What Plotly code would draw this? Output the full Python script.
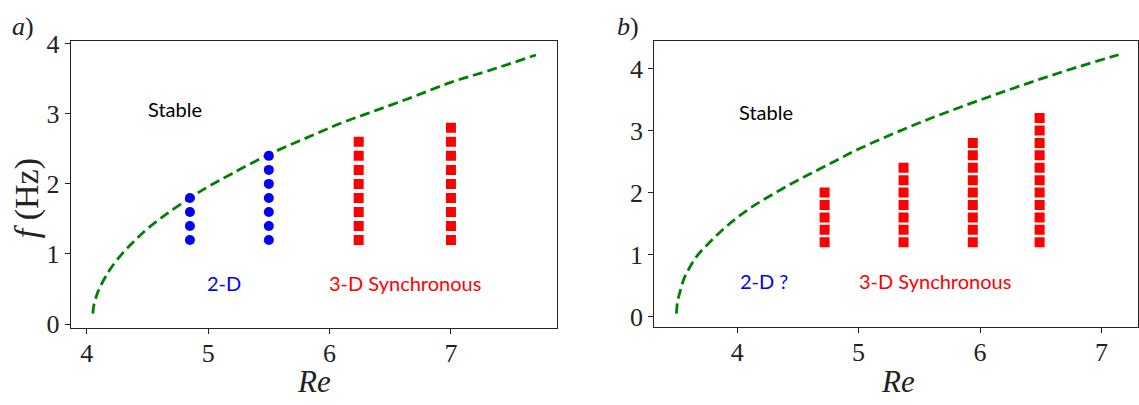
import plotly.graph_objects as go

# ---------------- data ----------------
# Panel a
a_curve_re = [4.05, 4.06, 4.08, 4.10, 4.15, 4.20, 4.30, 4.40, 4.50, 4.65, 4.85, 5.00,
              5.20, 5.50, 5.80, 6.10, 6.40, 6.70, 7.00, 7.30, 7.70]
a_curve_f = [0.15, 0.28, 0.40, 0.49, 0.66, 0.80, 1.02, 1.20, 1.36, 1.56, 1.80, 1.96,
             2.15, 2.42, 2.65, 2.87, 3.06, 3.25, 3.45, 3.61, 3.84]
a_2d_re = [4.85] * 4 + [5.5] * 7
a_2d_f = [1.2, 1.4, 1.6, 1.8] + [1.2, 1.4, 1.6, 1.8, 2.0, 2.2, 2.4]
a_3d_re = [6.24] * 8 + [7.0] * 9
a_3d_f = [1.2, 1.4, 1.6, 1.8, 2.0, 2.2, 2.4, 2.6] + [1.2, 1.4, 1.6, 1.8, 2.0, 2.2, 2.4, 2.6, 2.8]

# Panel b
b_curve_re = [3.50, 3.51, 3.53, 3.56, 3.60, 3.67, 3.78, 3.92, 4.10, 4.30, 4.52, 4.75,
              5.00, 5.30, 5.60, 5.90, 6.20, 6.50, 6.80, 7.14]
b_curve_f = [0.05, 0.25, 0.40, 0.60, 0.76, 0.98, 1.21, 1.47, 1.74, 1.98, 2.22, 2.45,
             2.70, 2.96, 3.20, 3.42, 3.63, 3.83, 4.02, 4.22]
b_3d_re = [4.72] * 5 + [5.37] * 7 + [5.94] * 9 + [6.49] * 11
b_3d_f = ([1.2, 1.4, 1.6, 1.8, 2.0] +
          [1.2, 1.4, 1.6, 1.8, 2.0, 2.2, 2.4] +
          [1.2, 1.4, 1.6, 1.8, 2.0, 2.2, 2.4, 2.6, 2.8] +
          [1.2, 1.4, 1.6, 1.8, 2.0, 2.2, 2.4, 2.6, 2.8, 3.0, 3.2])

x_ticks = [4, 5, 6, 7]
y_ticks = [0, 1, 2, 3, 4]

# ---------------- figure ----------------
W, H = 1139, 405
SERIF = "Liberation Serif"
SANS = "Lato"
GREEN = "#008000"

fig = go.Figure()

def curve(x, y, xa, ya):
    return go.Scatter(x=x, y=y, mode="lines", xaxis=xa, yaxis=ya,
                      line=dict(color=GREEN, width=2.8, dash="10px,5px", shape="spline"),
                      hoverinfo="skip", showlegend=False)

def pts(x, y, xa, ya, color, symbol):
    return go.Scatter(x=x, y=y, mode="markers", xaxis=xa, yaxis=ya,
                      marker=dict(color=color, size=10, symbol=symbol, line=dict(width=0)),
                      showlegend=False)

fig.add_trace(curve(a_curve_re, a_curve_f, "x", "y"))
fig.add_trace(pts(a_2d_re, a_2d_f, "x", "y", "#0000ff", "circle"))
fig.add_trace(pts(a_3d_re, a_3d_f, "x", "y", "#ff0000", "square"))
fig.add_trace(curve(b_curve_re, b_curve_f, "x2", "y2"))
fig.add_trace(pts(b_3d_re, b_3d_f, "x2", "y2", "#ff0000", "square"))

def px2dom(x0, x1, total):
    return [x0 / total, x1 / total]

ax_common = dict(showline=True, linecolor="#222", linewidth=1.2, mirror=True,
                 ticks="outside", ticklen=5, tickwidth=1, tickcolor="#222",
                 showgrid=False, zeroline=False,
                 tickfont=dict(family=SERIF, size=26, color="#222"))
x_extra = dict(ticklabelstandoff=-3)

fig.update_layout(
    width=W, height=H,
    margin=dict(l=0, r=0, t=0, b=0),
    paper_bgcolor="white", plot_bgcolor="white",
    xaxis=dict(domain=px2dom(70.7, 557.3, W), range=[3.868, 7.876], anchor="y",
               tickvals=x_ticks, **ax_common, **x_extra),
    yaxis=dict(domain=[1 - 334.7 / H, 1 - 32 / H], range=[-0.05, 4.036], anchor="x",
               tickvals=y_ticks, **ax_common),
    xaxis2=dict(domain=px2dom(654.3, 1138.0, W), range=[3.318, 7.30], anchor="y2",
                tickvals=x_ticks, **ax_common, **x_extra),
    yaxis2=dict(domain=[1 - 334.3 / H, 1 - 32 / H], range=[-0.168, 4.437], anchor="x2",
                tickvals=y_ticks, **ax_common),
)

ann = []
def txt(x, y, s, color, xref, yref, size=20, family=SANS, **kw):
    ann.append(dict(x=x, y=y, xref=xref, yref=yref, text=s, showarrow=False,
                    font=dict(family=family, size=size, color=color),
                    xanchor="center", yanchor="middle", **kw))

# panel a texts
txt(4.727, 3.07, "Stable", "black", "x", "y")
txt(5.133, 0.59, "2-D", "#0000ff", "x", "y")
txt(6.625, 0.59, "3-D Synchronous", "#ff0000", "x", "y")
# panel b texts
txt(4.237, 3.30, "Stable", "black", "x2", "y2")
txt(4.22, 0.583, "2-D ?", "#0000ff", "x2", "y2")
txt(5.631, 0.583, "3-D Synchronous", "#ff0000", "x2", "y2")

# axis titles and panel labels (paper coordinates from pixel positions)
txt(27 / W, 1 - 198 / H, "<i>f</i> (Hz)", "#222", "paper", "paper", size=34, family=SERIF,
    textangle=-90)
txt(314 / W, 1 - 392 / H, "<i>Re</i>", "#222", "paper", "paper", size=31, family=SERIF)
txt(898 / W, 1 - 392 / H, "<i>Re</i>", "#222", "paper", "paper", size=31, family=SERIF)
txt(23 / W, 1 - 16 / H, "<i>a</i>)", "#222", "paper", "paper", size=26, family=SERIF)
txt(628 / W, 1 - 16 / H, "<i>b</i>)", "#222", "paper", "paper", size=26, family=SERIF)

fig.update_layout(annotations=ann)

fig.write_html("out.html", config={"displayModeBar": False},
               post_script="document.body.style.margin='0';")
